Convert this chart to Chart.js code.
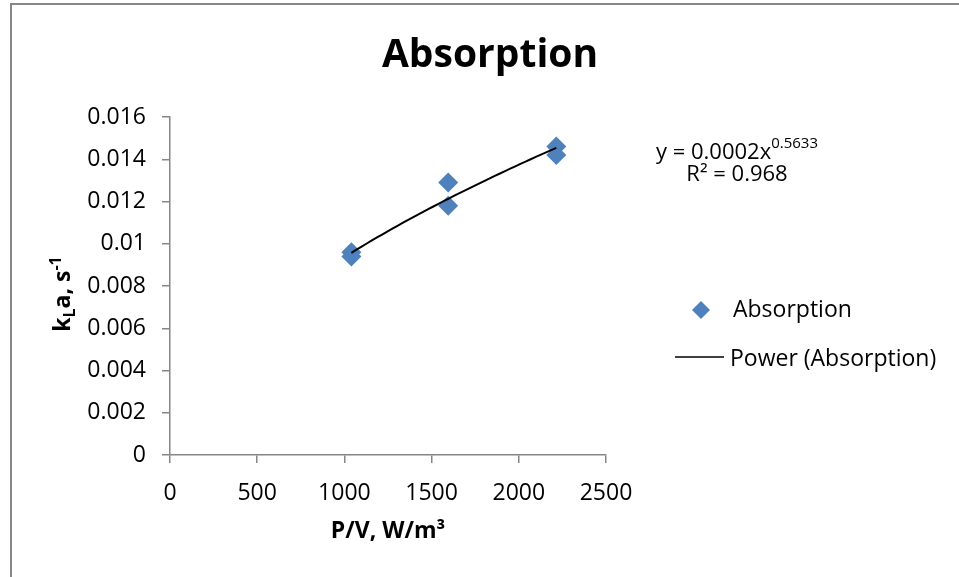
<!DOCTYPE html>
<html>
<head>
<meta charset="utf-8">
<script src="https://cdn.jsdelivr.net/npm/chart.js@4"></script>
<style>
    body { margin: 0; background: #fff; }
    #wrap { position: relative; width: 959px; height: 577px; overflow: hidden; }
    #frame {
        position: absolute; left: 10px; top: 3px; width: 980px; height: 600px;
        border-left: 2px solid #878787; border-top: 2px solid #878787;
        pointer-events: none;
    }
</style>
</head>
<body>
<div id="wrap">
    <canvas id="chart" width="959" height="577"></canvas>
    <div id="frame"></div>
</div>
<script>
// Measured points (P/V in W/m3, kLa in 1/s)
const powerPerVolume = [1040, 1040, 1595, 1595, 2215, 2215];
const klaValues = [0.0096, 0.0094, 0.0129, 0.0118, 0.0146, 0.0142];

const xTicks = [0, 500, 1000, 1500, 2000, 2500];
const yTicks = [0, 0.002, 0.004, 0.006, 0.008, 0.01, 0.012, 0.014, 0.016];

const seriesName = 'Absorption';
const trendName = 'Power (Absorption)';
const equationText = 'y = 0.0002x';
const equationExp = '0.5633';
const r2Text = 'R² = 0.968';

const FONT = '"Open Sans", sans-serif';
const BLUE = '#4F81BD';
const AXIS = '#868686';

// Power trendline y = a*x^b, fitted on logs like Excel does
function powerFit(xs, ys) {
    const lx = xs.map(Math.log), ly = ys.map(Math.log);
    const n = xs.length;
    const mx = lx.reduce((s, v) => s + v, 0) / n;
    const my = ly.reduce((s, v) => s + v, 0) / n;
    let sxy = 0, sxx = 0;
    for (let i = 0; i < n; i++) {
        sxy += (lx[i] - mx) * (ly[i] - my);
        sxx += (lx[i] - mx) ** 2;
    }
    const b = sxy / sxx;
    return { a: Math.exp(my - b * mx), b };
}

const fit = powerFit(powerPerVolume, klaValues);
const xMin = Math.min(...powerPerVolume), xMax = Math.max(...powerPerVolume);
const trendPoints = [];
for (let i = 0; i <= 40; i++) {
    const x = xMin + (xMax - xMin) * i / 40;
    trendPoints.push({ x, y: fit.a * Math.pow(x, fit.b) });
}

const extraText = {
    id: 'extraText',
    afterDraw(chart) {
        const ctx = chart.ctx;
        const area = chart.chartArea;
        ctx.save();
        ctx.fillStyle = '#000';

        // title
        ctx.font = 'bold 39px ' + FONT;
        ctx.textAlign = 'center';
        ctx.textBaseline = 'middle';
        ctx.fillText('Absorption', 490, 56);

        // x title
        ctx.font = 'bold 23px ' + FONT;
        ctx.fillText('P/V, W/m³', (area.left + area.right) / 2, 531);

        // y title with sub/superscript, rotated
        ctx.save();
        ctx.translate(70, 294);
        ctx.rotate(-Math.PI / 2);
        ctx.textAlign = 'left';
        ctx.textBaseline = 'alphabetic';
        const big = 'bold 23px ' + FONT, small = 'bold 16px ' + FONT;
        const parts = [
            { t: 'k', f: big, dy: 0 },
            { t: 'L', f: small, dy: 5 },
            { t: 'a, s', f: big, dy: 0 },
            { t: '-1', f: small, dy: -9 }
        ];
        let total = 0;
        parts.forEach(p => { ctx.font = p.f; p.w = ctx.measureText(p.t).width; total += p.w; });
        let px = -total / 2;
        parts.forEach(p => { ctx.font = p.f; ctx.fillText(p.t, px, p.dy); px += p.w; });
        ctx.restore();

        // trendline equation
        ctx.textAlign = 'left';
        ctx.textBaseline = 'alphabetic';
        ctx.font = '22px ' + FONT;
        const w1 = ctx.measureText(equationText).width;
        ctx.font = '15px ' + FONT;
        const w2 = ctx.measureText(equationExp).width;
        const ex = 737 - (w1 + w2) / 2;
        ctx.font = '22px ' + FONT;
        ctx.fillText(equationText, ex, 159);
        ctx.font = '15px ' + FONT;
        ctx.fillText(equationExp, ex + w1, 148);
        ctx.font = '22px ' + FONT;
        ctx.textAlign = 'center';
        ctx.fillText(r2Text, 737, 181);

        // legend
        const ds = chart.data.datasets;
        ctx.textAlign = 'left';
        ctx.font = '23px ' + FONT;
        ctx.fillStyle = BLUE;
        ctx.beginPath();
        ctx.moveTo(701, 301); ctx.lineTo(710, 310); ctx.lineTo(701, 319); ctx.lineTo(692, 310);
        ctx.closePath();
        ctx.fill();
        ctx.fillStyle = '#000';
        ctx.fillText(ds[0].label, 733, 317);

        ctx.strokeStyle = '#000';
        ctx.lineWidth = 1.5;
        ctx.beginPath();
        ctx.moveTo(675, 357); ctx.lineTo(724, 357);
        ctx.stroke();
        ctx.fillText(ds[1].label, 730, 366);

        ctx.restore();
    }
};

new Chart(document.getElementById('chart'), {
    type: 'scatter',
    data: {
        datasets: [{
            label: seriesName,
            data: powerPerVolume.map((x, i) => ({ x, y: klaValues[i] })),
            pointStyle: 'rectRot',
            pointRadius: 10,
            pointBackgroundColor: BLUE,
            pointBorderWidth: 0,
            order: 2
        }, {
            label: trendName,
            type: 'line',
            data: trendPoints,
            borderColor: '#000',
            borderWidth: 2,
            pointRadius: 0,
            tension: 0,
            order: 1
        }]
    },
    options: {
        responsive: false,
        animation: false,
        layout: { padding: { top: 117, right: 353, left: 0, bottom: 0 } },
        plugins: {
            legend: { display: false },
            tooltip: { enabled: false }
        },
        scales: {
            x: {
                type: 'linear',
                min: xTicks[0],
                max: xTicks[xTicks.length - 1],
                afterBuildTicks: s => { s.ticks = xTicks.map(v => ({ value: v })); },
                afterFit: s => { s.height = 122; },
                ticks: {
                    color: '#000', font: { family: FONT, size: 23 }, padding: 17, maxRotation: 0,
                    callback: v => String(v)
                },
                grid: { drawOnChartArea: false, tickLength: 8, color: AXIS, lineWidth: 1.5 },
                border: { color: AXIS, width: 1.5 }
            },
            y: {
                min: yTicks[0],
                max: yTicks[yTicks.length - 1],
                afterBuildTicks: s => { s.ticks = yTicks.map(v => ({ value: v })); },
                afterFit: s => { s.width = 170; },
                ticks: {
                    color: '#000', font: { family: FONT, size: 23 }, padding: 16,
                    callback: v => String(parseFloat(v.toFixed(3)))
                },
                grid: { drawOnChartArea: false, tickLength: 8, color: AXIS, lineWidth: 1.5 },
                border: { color: AXIS, width: 1.5 }
            }
        }
    },
    plugins: [extraText]
});
</script>
</body>
</html>
